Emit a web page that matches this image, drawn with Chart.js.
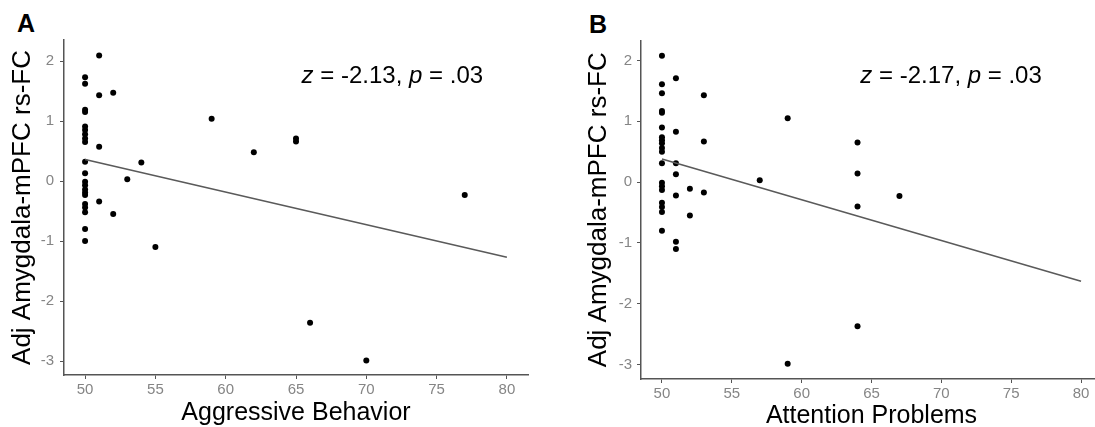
<!DOCTYPE html>
<html>
<head>
<meta charset="utf-8">
<script src="https://cdn.jsdelivr.net/npm/chart.js@4.4.0/dist/chart.umd.min.js"></script>
<style>
  html, body { margin: 0; padding: 0; background: #fff; overflow: hidden; width: 1095px; height: 427px; }
  canvas { position: absolute; top: 0; }
  #chartA { left: 0; }
  #chartB { left: 548px; }
  .panel { position: absolute; font: bold 25px "Liberation Sans", Arial, sans-serif; color: #000; line-height: 1; }
</style>
</head>
<body>
<div class="panel" style="left:17px;top:11px">A</div>
<div class="panel" style="left:589px;top:12px">B</div>
<canvas id="chartA" width="545" height="427"></canvas>
<canvas id="chartB" width="560" height="427"></canvas>
<script>
// data
const xTicks = [50, 55, 60, 65, 70, 75, 80];
const yTicks = [-3, -2, -1, 0, 1, 2];

// A: aggressive behavior vs adj amygdala-mPFC rs-FC
const aggX = [50, 50, 50, 50, 50, 50, 50, 50, 50, 50, 50, 50, 50, 50, 50, 50, 50, 50, 50, 50, 50,
              51, 51, 51, 51, 52, 52, 53, 54, 55, 59, 62, 65, 65, 66, 70, 77];
const aggY = [1.73, 1.62, 1.19, 1.15, 0.91, 0.85, 0.78, 0.71, 0.65, 0.32, 0.13, -0.01, -0.07, -0.14, -0.19, -0.23, -0.38, -0.44, -0.52, -0.80, -1.00,
              2.09, 1.43, 0.57, -0.34, 1.47, -0.55, 0.03, 0.31, -1.10, 1.04, 0.48, 0.71, 0.66, -2.36, -2.99, -0.23];
const aggFitX = [50, 80];
const aggFitY = [0.36, -1.27];

// B: attention problems vs adj amygdala-mPFC rs-FC
const attX = [50, 50, 50, 50, 50, 50, 50, 50, 50, 50, 50, 50, 50, 50, 50, 50, 50, 50, 50,
              51, 51, 51, 51, 51, 51, 51, 52, 52, 53, 53, 53, 57, 59, 59, 64, 64, 64, 64, 67];
const attY = [2.08, 1.61, 1.46, 1.17, 1.14, 0.90, 0.74, 0.69, 0.64, 0.56, 0.50, 0.31, -0.01, -0.07, -0.13, -0.34, -0.41, -0.49, -0.80,
              1.71, 0.83, 0.31, 0.13, -0.22, -0.98, -1.10, -0.11, -0.55, 1.43, 0.67, -0.17, 0.03, 1.05, -2.99, 0.65, 0.14, -0.40, -2.37, -0.23];
const attFitX = [50, 80];
const attFitY = [0.38, -1.63];

const FONT = '"Liberation Sans", Arial, Helvetica, sans-serif';
const AXIS = '#555555';

// z / p label, italic letters drawn piece by piece
const notePlugin = {
  id: 'note',
  afterDraw(chart, args, opts) {
    const { ctx, scales } = chart;
    let x = scales.x.getPixelForValue(opts.x);
    const y = scales.y.getPixelForValue(opts.y);
    ctx.save();
    ctx.fillStyle = '#000';
    ctx.textBaseline = 'middle';
    ctx.textAlign = 'left';
    opts.parts.forEach(([t, italic]) => {
      ctx.font = (italic ? 'italic ' : '') + '24px ' + FONT;
      ctx.fillText(t, x, y);
      x += ctx.measureText(t).width;
    });
    ctx.restore();
  }
};

function buildChart(id, p) {
  const pts = p.x.map((v, i) => ({ x: v, y: p.y[i] }));
  const fit = p.fitX.map((v, i) => ({ x: v, y: p.fitY[i] }));
  return new Chart(document.getElementById(id), {
    type: 'scatter',
    data: {
      datasets: [
        { data: pts, pointRadius: 3, pointHoverRadius: 3, pointBackgroundColor: '#000', pointBorderWidth: 0, order: 1 },
        { data: fit, showLine: true, borderColor: '#5a5a5a', borderWidth: 1.6, pointRadius: 0, order: 0 }
      ]
    },
    options: {
      responsive: false,
      animation: false,
      layout: { padding: p.pad },
      plugins: {
        legend: { display: false },
        tooltip: { enabled: false },
        note: { x: p.noteX, y: p.noteY, parts: p.note }
      },
      scales: {
        x: {
          type: 'linear', min: 48.5, max: 81.5,
          afterBuildTicks: s => { s.ticks = xTicks.map(v => ({ value: v })); },
          afterFit: s => { s.height = p.xHeight; },
          grid: { drawOnChartArea: false, drawTicks: true, tickLength: 4, color: AXIS, lineWidth: 1 },
          border: { display: true, color: AXIS, width: 1.5 },
          ticks: { color: '#858585', font: { family: FONT, size: 15 }, padding: 2, maxRotation: 0, autoSkip: false },
          title: { display: true, text: p.xTitle, color: '#000', font: { family: FONT, size: 25, lineHeight: 0.8 }, padding: { top: 0, bottom: p.xTitlePad } }
        },
        y: {
          type: 'linear', min: p.yMin, max: p.yMax,
          afterBuildTicks: s => { s.ticks = yTicks.map(v => ({ value: v })); },
          afterFit: s => { s.width = p.yWidth; },
          grid: { drawOnChartArea: false, drawTicks: true, tickLength: 4, color: AXIS, lineWidth: 1 },
          border: { display: true, color: AXIS, width: 1.5 },
          ticks: { color: '#858585', font: { family: FONT, size: 15 }, padding: p.yTickPad },
          title: { display: true, text: 'Adj Amygdala-mPFC rs-FC', color: '#000', font: { family: FONT, size: 26, lineHeight: 1.2 }, padding: { top: p.yTitlePad, bottom: 0 } }
        }
      }
    },
    plugins: [notePlugin]
  });
}

buildChart('chartA', {
  x: aggX, y: aggY, fitX: aggFitX, fitY: aggFitY,
  yMin: -3.23, yMax: 2.35,
  pad: { top: 40, right: 17, left: 0, bottom: 0 },
  xHeight: 52, yWidth: 64, yTickPad: 6, yTitlePad: 7.7, xTitlePad: 4,
  xTitle: 'Aggressive Behavior',
  noteX: 65.4, noteY: 1.74,
  note: [['z', true], [' = -2.13, ', false], ['p', true], [' = .03', false]]
});

buildChart('chartB', {
  x: attX, y: attY, fitX: attFitX, fitY: attFitY,
  yMin: -3.24, yMax: 2.33,
  pad: { top: 40.5, right: 6, left: 0, bottom: 0 },
  xHeight: 48, yWidth: 93, yTickPad: 5, yTitlePad: 35.4, xTitlePad: 1,
  xTitle: 'Attention Problems',
  noteX: 64.2, noteY: 1.74,
  note: [['z', true], [' = -2.17, ', false], ['p', true], [' = .03', false]]
});
</script>
</body>
</html>
